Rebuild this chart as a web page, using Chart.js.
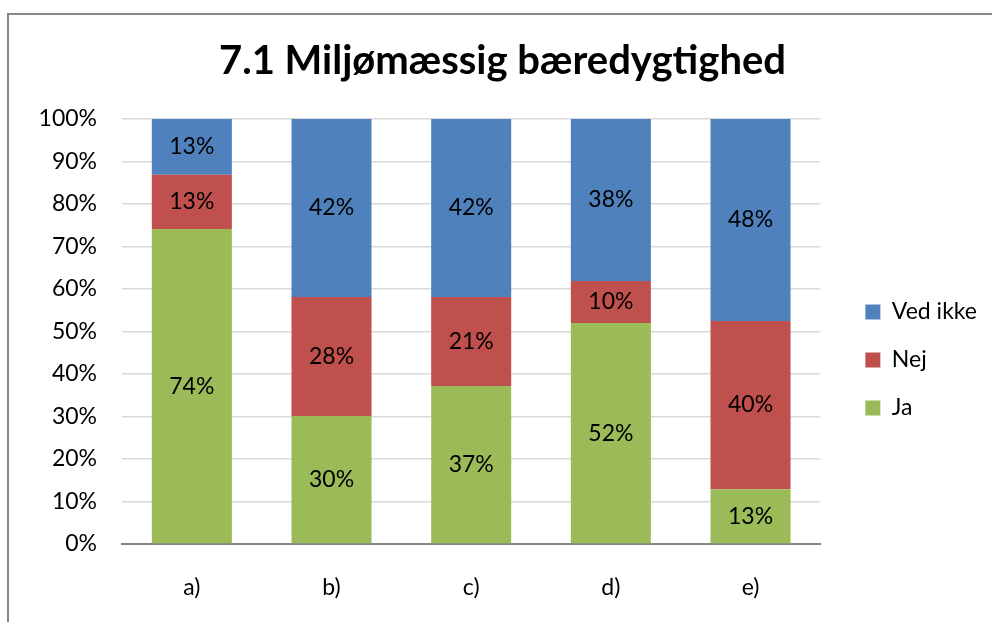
<!DOCTYPE html>
<html>
<head>
<meta charset="utf-8">
<script src="https://cdn.jsdelivr.net/npm/chart.js@4"></script>
<style>
  html, body { margin: 0; padding: 0; background: #fff; overflow: hidden; }
  #ramme { position: absolute; left: 7px; top: 13px; width: 2000px; height: 2000px;
           border-left: 2px solid #878787; border-top: 2px solid #878787; pointer-events: none; }
  #boks { position: absolute; left: 0; top: 0; width: 992px; height: 622px; }
</style>
</head>
<body>
<div id="boks"><canvas id="Canvas" width="992" height="622"></canvas></div>
<div id="ramme"></div>
<script>
// Miljømæssig bæredygtighed - stablet 100% søjle
let kategorier = ["a)", "b)", "c)", "d)", "e)"];
let ja = [74.1, 30.1, 37.2, 52.0, 12.9];
let nej = [12.8, 28.0, 20.9, 9.9, 39.6];
let vedIkke = [13.1, 41.9, 41.9, 38.1, 47.5];
let yTicks = [0, 10, 20, 30, 40, 50, 60, 70, 80, 90, 100];

let skrift = "Lato, 'Open Sans', sans-serif";

// procent-tekst midt i hver søjle
let etiketter = {
  id: "etiketter",
  afterDatasetsDraw(chart) {
    let ctx = chart.ctx;
    ctx.save();
    ctx.font = "23px " + skrift;
    ctx.fillStyle = "#000";
    ctx.textAlign = "center";
    ctx.textBaseline = "middle";
    chart.data.datasets.forEach((ds, i) => {
      let meta = chart.getDatasetMeta(i);
      meta.data.forEach((bar, j) => {
        ctx.fillText(Math.round(ds.data[j]) + "%", bar.x, (bar.y + bar.base) / 2);
      });
    });
    ctx.restore();
  }
};

// forklaringen: lidt luft til plottet og centreret lodret
let forklaringAfstand = {
  id: "forklaringAfstand",
  afterLayout(chart) {
    let lg = chart.legend;
    lg.left += 20;
    lg.right += 20;
    lg.top = 119;
    lg.bottom = 601;
  }
};

function criarGrafico() {
  let ctx = document.getElementById("Canvas").getContext("2d");

  new Chart(ctx, {
    type: "bar",
    data: {
      labels: kategorier,
      datasets: [
        { label: "Ja", data: ja, backgroundColor: "#9BBB59" },
        { label: "Nej", data: nej, backgroundColor: "#C0504D" },
        { label: "Ved ikke", data: vedIkke, backgroundColor: "#4F81BD" }
      ]
    },
    plugins: [etiketter, forklaringAfstand],
    options: {
      responsive: false,
      animation: false,
      layout: { padding: { left: 38, right: 25, top: 0, bottom: 21 } },
      datasets: {
        bar: { barPercentage: 0.573, categoryPercentage: 1, borderWidth: 0 }
      },
      scales: {
        x: {
          stacked: true,
          afterFit(scale) { scale.height = 57; },
          grid: { display: false, drawTicks: false },
          border: { display: true, color: "#868686", width: 2 },
          ticks: { color: "#000", font: { family: skrift, size: 23 }, padding: 30 }
        },
        y: {
          stacked: true,
          min: 0,
          max: 100,
          afterFit(scale) { scale.width = 84; },
          afterBuildTicks(scale) { scale.ticks = yTicks.map(v => ({ value: v })); },
          grid: {
            drawTicks: false,
            color: c => c.tick && c.tick.value === 0 ? "rgba(0,0,0,0)" : "#d9d9d9",
            lineWidth: 1.5
          },
          border: { display: false },
          ticks: {
            color: "#000",
            font: { family: skrift, size: 23 },
            padding: 25,
            callback: v => v + "%"
          }
        }
      },
      plugins: {
        title: {
          display: true,
          text: "7.1 Miljømæssig bæredygtighed",
          color: "#000",
          font: { family: skrift, size: 40, weight: "bold" },
          padding: { top: 37, bottom: 34 }
        },
        legend: {
          position: "right",
          reverse: true,
          labels: {
            color: "#000",
            font: { family: skrift, size: 23 },
            boxWidth: 15,
            boxHeight: 15,
            padding: 25
          }
        },
        tooltip: { enabled: false }
      }
    }
  });
}

criarGrafico();
</script>
</body>
</html>
